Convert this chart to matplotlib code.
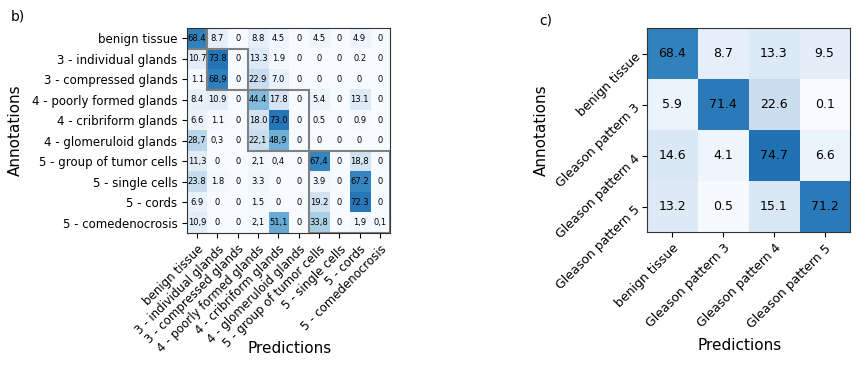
import matplotlib.pyplot as plt
from matplotlib.patches import Rectangle
import numpy as np

# panel b) fine-grained classes
fine_labels = ["benign tissue", "3 - individual glands", "3 - compressed glands",
               "4 - poorly formed glands", "4 - cribriform glands", "4 - glomeruloid glands",
               "5 - group of tumor cells", "5 - single cells", "5 - cords", "5 - comedenocrosis"]

# cell texts as printed (some use a decimal comma)
fine_text = [
    ["68.4", "8.7", "0", "8.8", "4.5", "0", "4.5", "0", "4.9", "0"],
    ["10.7", "73.8", "0", "13.3", "1.9", "0", "0", "0", "0.2", "0"],
    ["1.1", "68,9", "0", "22.9", "7.0", "0", "0", "0", "0", "0"],
    ["8.4", "10.9", "0", "44.4", "17.8", "0", "5.4", "0", "13.1", "0"],
    ["6.6", "1.1", "0", "18.0", "73.0", "0", "0.5", "0", "0.9", "0"],
    ["28,7", "0,3", "0", "22,1", "48,9", "0", "0", "0", "0", "0"],
    ["11,3", "0", "0", "2,1", "0,4", "0", "67,4", "0", "18,8", "0"],
    ["23.8", "1.8", "0", "3.3", "0", "0", "3.9", "0", "67.2", "0"],
    ["6.9", "0", "0", "1.5", "0", "0", "19.2", "0", "72.3", "0"],
    ["10,9", "0", "0", "2,1", "51,1", "0", "33,8", "0", "1,9", "0,1"],
]

# groups (first index, last index) outlined on panel b)
groups = [(0, 0), (1, 2), (3, 5), (6, 9)]

# panel c) Gleason patterns
coarse_labels = ["benign tissue", "Gleason pattern 3", "Gleason pattern 4", "Gleason pattern 5"]
coarse_values = [
    [68.4, 8.7, 13.3, 9.5],
    [5.9, 71.4, 22.6, 0.1],
    [14.6, 4.1, 74.7, 6.6],
    [13.2, 0.5, 15.1, 71.2],
]

fine_values = np.array([[float(s.replace(",", ".")) for s in row] for row in fine_text])
coarse_values = np.array(coarse_values)

fig = plt.figure(figsize=(8.65, 3.7), dpi=100)

# ---- b)
ax1 = fig.add_axes([0.2162, 0.3703, 0.2347, 0.554])
ax1.imshow(fine_values, cmap="Blues", vmin=0, vmax=100, aspect="auto")
for i in range(len(fine_labels)):
    for j in range(len(fine_labels)):
        ax1.text(j, i, fine_text[i][j], ha="center", va="center", fontsize=6, color="black")

for a, b in groups:
    ax1.add_patch(Rectangle((a - 0.5, a - 0.5), b - a + 1, b - a + 1, fill=False,
                            edgecolor="#808080", linewidth=1.5))

ax1.set_xticks(range(len(fine_labels)))
ax1.set_yticks(range(len(fine_labels)))
ax1.set_xticklabels(fine_labels, rotation=45, ha="right", rotation_mode="anchor", fontsize=8.5)
ax1.set_yticklabels(fine_labels, fontsize=8.5)
ax1.set_xlabel("Predictions", fontsize=11)
ax1.set_ylabel("Annotations", fontsize=11)
ax1.xaxis.set_label_coords(0.507, -0.525)
ax1.yaxis.set_label_coords(-0.808, 0.5)
for sp in ax1.spines.values():
    sp.set_color("#333333")

# ---- c)
ax2 = fig.add_axes([0.748, 0.373, 0.2347, 0.551])
ax2.imshow(coarse_values, cmap="Blues", vmin=0, vmax=100, aspect="auto")
for i in range(len(coarse_labels)):
    for j in range(len(coarse_labels)):
        ax2.text(j, i, "%.1f" % coarse_values[i, j], ha="center", va="center", fontsize=9)

ax2.set_xticks(range(len(coarse_labels)))
ax2.set_yticks(range(len(coarse_labels)))
ax2.set_xticklabels(coarse_labels, rotation=45, ha="right", rotation_mode="anchor", fontsize=9)
ax2.set_yticklabels(coarse_labels, rotation=45, ha="right", rotation_mode="anchor", fontsize=9)
ax2.set_xlabel("Predictions", fontsize=11)
ax2.set_ylabel("Annotations", fontsize=11)
ax2.xaxis.set_label_coords(0.458, -0.52)
ax2.yaxis.set_label_coords(-0.483, 0.5)
for sp in ax2.spines.values():
    sp.set_color("#333333")

fig.text(0.012, 0.945, "b)", fontsize=10)
fig.text(0.623, 0.935, "c)", fontsize=10)

plt.savefig("out.png", dpi=100)
